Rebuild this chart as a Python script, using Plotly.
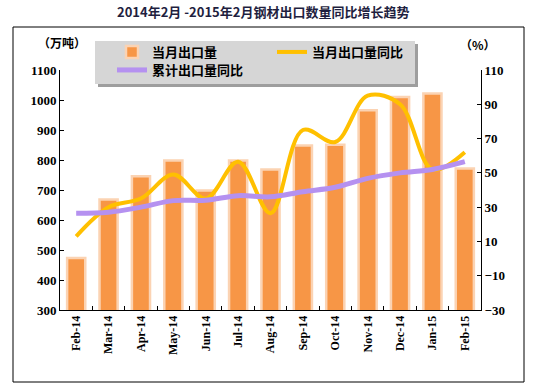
import plotly.graph_objects as go

months = ["Feb-14", "Mar-14", "Apr-14", "May-14", "Jun-14", "Jul-14", "Aug-14",
          "Sep-14", "Oct-14", "Nov-14", "Dec-14", "Jan-15", "Feb-15"]
export_volume = [473, 668, 746, 798, 698, 798, 768, 848, 851, 966, 1010, 1022, 772]
monthly_yoy = [13, 30, 35, 49, 35, 56.5, 26.5, 75, 68, 95, 90, 52, 62]
cumulative_yoy = [26.4, 27, 30, 33.8, 34, 36.7, 36, 39, 41.6, 46.8, 50, 52, 56.5]

left_ticks = [300, 400, 500, 600, 700, 800, 900, 1000, 1100]
right_ticks = [-30, -10, 10, 30, 50, 70, 90, 110]

W, H = 534, 388
ML, MR, MT, MB = 60, 53, 70, 78
PW, PH = W - ML - MR, H - MT - MB


def px(x):
    return (x - ML) / PW


def py(y):
    return (H - MB - y) / PH


cjk = "Noto Sans CJK SC"
serif = "Liberation Serif"

fig = go.Figure()
fig.add_trace(go.Bar(
    x=months, y=export_volume, name="当月出口量", yaxis="y",
    width=0.56,
    marker=dict(color="#F79646", line=dict(color="#FBD3B3", width=2.5)),
    legend="legend",
))
fig.add_trace(go.Scatter(
    x=months, y=monthly_yoy, name="当月出口量同比", yaxis="y2", mode="lines",
    line=dict(color="#FFC000", width=4, shape="spline", smoothing=1.0),
    legend="legend",
))
fig.add_trace(go.Scatter(
    x=months, y=cumulative_yoy, name="累计出口量同比", yaxis="y2", mode="lines",
    line=dict(color="#B591F0", width=5, shape="spline", smoothing=1.0),
    legend="legend2",
))

tickfont = dict(family=serif, size=13, color="#000", weight="bold")

fig.update_layout(
    width=W, height=H,
    margin=dict(l=ML, r=MR, t=MT, b=MB),
    paper_bgcolor="white", plot_bgcolor="white",
    showlegend=True,
    xaxis=dict(
        type="category", showgrid=False, showline=True, linecolor="#000", linewidth=1,
        ticks="inside", tickson="boundaries", ticklen=4, tickcolor="#000",
        tickangle=-90, tickfont=dict(family=serif, size=12, color="#000", weight="bold"),
        range=[-0.5, len(months) - 0.5],
    ),
    yaxis=dict(
        range=[300, 1100], tickvals=left_ticks, showgrid=False, zeroline=False,
        showline=True, linecolor="#000", linewidth=1,
        ticks="inside", ticklen=4, tickcolor="#000", tickfont=tickfont,
    ),
    yaxis2=dict(
        range=[-30, 110], tickvals=right_ticks, overlaying="y", side="right",
        showgrid=False, zeroline=False, showline=True, linecolor="#000", linewidth=1,
        ticks="inside", ticklen=4, tickcolor="#000", tickfont=tickfont,
    ),
    legend=dict(
        orientation="h", x=px(112), y=py(37), xanchor="left", yanchor="top",
        bgcolor="rgba(0,0,0,0)", entrywidth=115, entrywidthmode="pixels",
        font=dict(family=cjk, size=13, color="#000", weight="bold"),
        itemwidth=30, tracegroupgap=0,
    ),
    legend2=dict(
        orientation="h", x=px(112), y=py(55), xanchor="left", yanchor="top",
        bgcolor="rgba(0,0,0,0)",
        font=dict(family=cjk, size=13, color="#000", weight="bold"),
        itemwidth=30,
    ),
    shapes=[
        dict(type="rect", xref="paper", yref="paper",
             x0=px(13), x1=px(524), y0=py(382), y1=py(27),
             line=dict(color="#000", width=1), fillcolor="rgba(0,0,0,0)", layer="below"),
        dict(type="rect", xref="paper", yref="paper",
             x0=px(98), x1=px(418), y0=py(87), y1=py(44),
             line=dict(width=0), fillcolor="#9E9E9E", layer="above"),
        dict(type="rect", xref="paper", yref="paper",
             x0=px(95), x1=px(415), y0=py(84), y1=py(41),
             line=dict(width=0), fillcolor="#D6D6D6", layer="above"),
    ],
    annotations=[
        dict(text="2014年2月 -2015年2月钢材出口数量同比增长趋势", xref="paper", yref="paper",
             x=px(263), y=py(12), xanchor="center", yanchor="middle", showarrow=False,
             font=dict(family=cjk, size=13, color="#1F1F3F", weight="bold")),
        dict(text="（万吨）", xref="paper", yref="paper",
             x=px(62), y=py(43), xanchor="center", yanchor="middle", showarrow=False,
             font=dict(family=cjk, size=12, color="#000", weight="bold")),
        dict(text="（%）", xref="paper", yref="paper",
             x=px(478), y=py(45), xanchor="center", yanchor="middle", showarrow=False,
             font=dict(family=cjk, size=12, color="#000", weight="bold")),
    ],
)

fig.write_html("out.html", config={"displayModeBar": False},
               post_script="document.body.style.margin='0';")
